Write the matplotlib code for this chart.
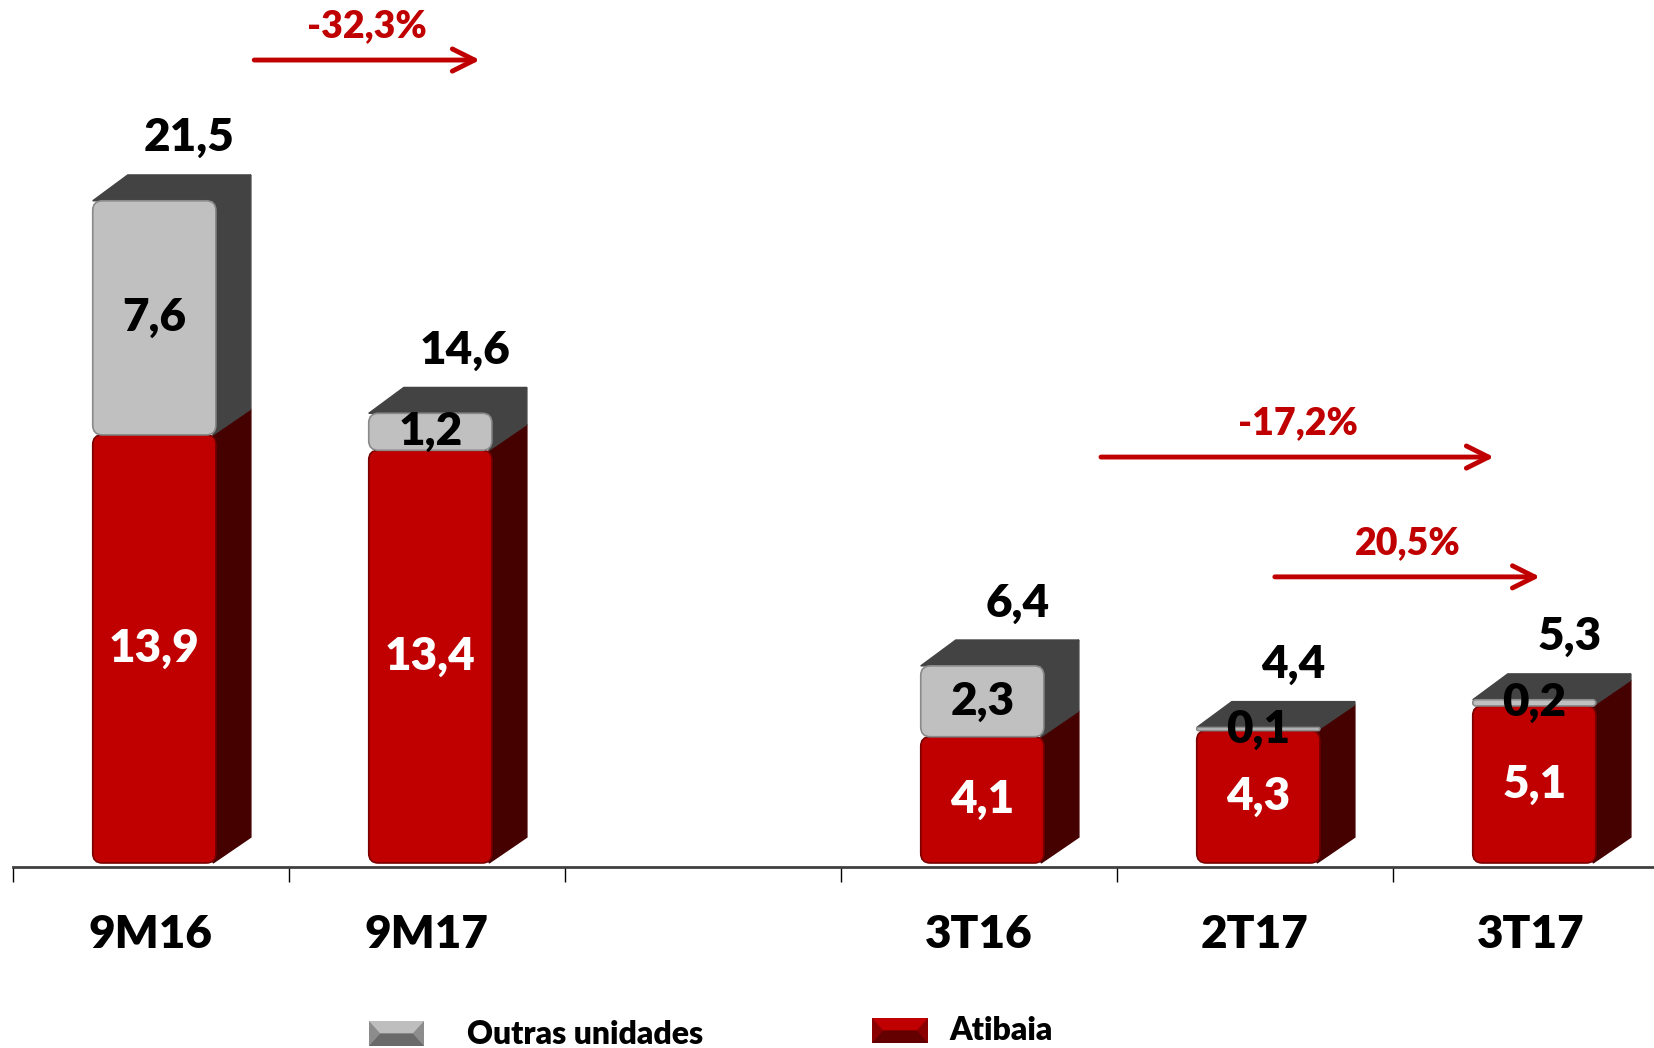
import matplotlib.pyplot as plt
from matplotlib.patches import Polygon, FancyBboxPatch

plt.rcParams['font.family'] = ['Lato', 'DejaVu Sans']

categories = ['9M16', '9M17', '3T16', '2T17', '3T17']
slots = [0, 1, 3, 4, 5]          # slot 2 stays empty
atibaia = [13.9, 13.4, 4.1, 4.3, 5.1]
outras = [7.6, 1.2, 2.3, 0.1, 0.2]
totals = [21.5, 14.6, 6.4, 4.4, 5.3]

changes = ['-32,3%', '-17,2%', '20,5%']
chg_from = [0.875, 3.943, 4.573]
chg_to = [1.693, 5.367, 5.534]
chg_y = [26.07, 13.18, 9.29]

RED = '#C00000'
RED_EDGE = '#7A0000'
RED_SIDE = '#450000'
GRAY = '#C0C0C0'
GRAY_EDGE = '#8A8A8A'
GRAY_DARK = '#434343'
ARROW = '#C00000'
WT = 'heavy'


def fmt(v):
    return f'{v:.1f}'.replace('.', ',')


W, H = 1654, 1048
fig = plt.figure(figsize=(W / 100, H / 100), dpi=100)
ax = fig.add_axes([12.7 / W, (H - 867) / H, 1 - 12.7 / W, 867 / H])
ax.set_xlim(0, (W - 12.7) / 276)
ax.set_ylim(-0.13, -0.13 + 867 / 30.8)

off = 0.29      # front face start inside slot
bw = 0.446      # front face width
dx = 0.127      # depth in x (slot units)
dy = 0.84       # depth in y (data units)
rx = 0.035      # corner rounding in x units
asp = 276 / 30.8


def front(x0, y0, h, fc, ec):
    r = min(rx, h / 2 / asp)
    ax.add_patch(FancyBboxPatch((x0, y0), bw, h,
                                boxstyle=f'round,pad=0,rounding_size={r}',
                                mutation_aspect=asp, facecolor=fc,
                                edgecolor=ec, linewidth=1.2, zorder=3))


for s, a, o, t in zip(slots, atibaia, outras, totals):
    x0 = s + off
    x1 = x0 + bw
    # side faces
    ax.add_patch(Polygon([(x1 - 0.01, 0), (x1 + dx, dy), (x1 + dx, a + dy), (x1 - 0.01, a)],
                         closed=True, color=RED_SIDE, zorder=2))
    ax.add_patch(Polygon([(x1 - 0.01, a), (x1 + dx, a + dy), (x1 + dx, t + dy), (x1 - 0.01, t)],
                         closed=True, color=GRAY_DARK, zorder=2))
    # top face
    ax.add_patch(Polygon([(x0, t), (x0 + dx, t + dy), (x1 + dx, t + dy), (x1, t)],
                         closed=True, color=GRAY_DARK, zorder=2))
    # front faces
    front(x0, 0, a, RED, RED_EDGE)
    front(x0, a, o, GRAY, GRAY_EDGE)
    # labels
    xc = x0 + bw / 2
    ax.text(xc, a / 2, fmt(a), ha='center', va='center', color='white',
            fontsize=33, fontweight=WT, zorder=5)
    ax.text(xc, a + o / 2, fmt(o), ha='center', va='center', color='black',
            fontsize=33, fontweight=WT, zorder=5)
    ax.text(xc + dx, t + dy + 1.2, fmt(t), ha='center', va='center', color='black',
            fontsize=33, fontweight=WT, zorder=5)

# growth arrows
for lab, xa, xb, ya in zip(changes, chg_from, chg_to, chg_y):
    ax.annotate('', xy=(xb, ya), xytext=(xa, ya),
                arrowprops=dict(arrowstyle='->', color=ARROW, lw=3.5,
                                mutation_scale=40, shrinkA=0, shrinkB=0))
    ax.text((xa + xb) / 2, ya + 1.1, lab, ha='center', va='center', color=ARROW,
            fontsize=27, fontweight=WT)

# axis
for sp in ['left', 'right', 'top']:
    ax.spines[sp].set_visible(False)
ax.spines['bottom'].set_color('#404040')
ax.spines['bottom'].set_linewidth(2)
ax.set_yticks([])
ax.set_xticks(range(6))
ax.set_xticklabels([])
ax.tick_params(axis='x', which='major', length=11, width=1, color='black')
ax.set_xticks([s + 0.5 for s in slots], minor=True)
ax.set_xticklabels(categories, minor=True, fontsize=33, fontweight=WT)
ax.tick_params(axis='x', which='minor', length=0, pad=34)


# legend drawn in figure pixels
def bevel(x0, x1, ytop, ybot, light, mid, dark):
    b = (ybot - ytop) * 0.45
    ym = (ytop + ybot) / 2
    rect = [(x0, ybot), (x1, ybot), (x1, ytop), (x0, ytop)]
    top = [(x0, ytop), (x1, ytop), (x1 - b, ym), (x0 + b, ym)]
    bot = [(x0, ybot), (x1, ybot), (x1 - b, ym), (x0 + b, ym)]
    for pts, c in [(rect, mid), (top, light), (bot, dark)]:
        fig.patches.append(Polygon([(px / W, 1 - py / H) for px, py in pts],
                                   closed=True, facecolor=c, edgecolor='none',
                                   transform=fig.transFigure))


bevel(369, 424, 1021, 1046, '#BEBEBE', '#8C8C8C', '#6A6A6A')
bevel(872, 928, 1018, 1043, '#C00000', '#8A0000', '#650000')
fig.text(467 / W, 1 - 1034 / H, 'Outras unidades', ha='left', va='center',
         fontsize=23, fontweight=WT)
fig.text(949 / W, 1 - 1031 / H, 'Atibaia', ha='left', va='center',
         fontsize=23, fontweight=WT)

fig.savefig('out.png', dpi=100)
